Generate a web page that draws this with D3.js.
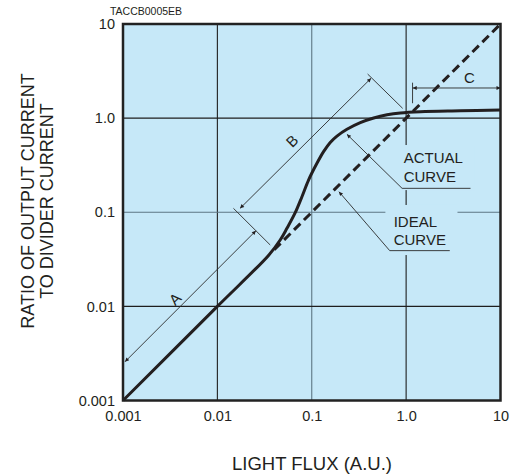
<!DOCTYPE html>
<html><head><meta charset="utf-8">
<script src="https://cdn.jsdelivr.net/npm/d3@7"></script>
<style>
body{margin:0;background:#fff}
svg{display:block}
text{font-family:"Liberation Sans",Arial,Helvetica,sans-serif;fill:#231f20}
</style>
</head><body>
<svg id="chart" width="514" height="475"></svg>
<script>
// ---------- data ----------
const tickValues   = [0.001, 0.01, 0.1, 1, 10];
const xTickLabels  = ["0.001", "0.01", "0.1", "1.0", "10"];
const yTickLabels  = ["0.001", "0.01", "0.1", "1.0", "10"];
const gridValues   = [0.01, 0.1, 1];
const actualX = [0.001, 0.01, 0.035, 0.0463, 0.0546, 0.0668, 0.0787, 0.0925, 0.1135, 0.1334, 0.157, 0.185, 0.236, 0.327, 0.453, 0.628, 0.869, 1.42, 3.76, 10];
const actualY = [0.001, 0.01, 0.035, 0.0507, 0.0675, 0.0989, 0.1463, 0.220, 0.331, 0.44, 0.551, 0.644, 0.761, 0.896, 1.003, 1.085, 1.136, 1.17, 1.196, 1.22];
const idealX  = [0.04, 10];
const idealY  = [0.04, 10];
const xTitle  = "LIGHT FLUX (A.U.)";
const yTitle  = ["RATIO OF OUTPUT CURRENT", "TO DIVIDER CURRENT"];
const figCode = "TACCB0005EB";
const labelA = "A", labelB = "B", labelC = "C";
const actualLabel = ["ACTUAL", "CURVE"];
const idealLabel  = ["IDEAL", "CURVE"];

// ---------- layout ----------
const svg = d3.select("#chart");
const L = 123, R = 500.5, T = 24, B = 400.5;
const x = d3.scaleLog().domain([0.001, 10]).range([L, R]);
const y = d3.scaleLog().domain([0.001, 10]).range([B, T]);
const bg = "#c6e8f8", ink = "#231f20";
const P = (a, b) => [x(a), y(b)];

// markers
const defs = svg.append("defs");
defs.append("marker").attr("id", "arr").attr("viewBox", "0 0 10 10")
  .attr("refX", 10).attr("refY", 5).attr("markerWidth", 7).attr("markerHeight", 4)
  .attr("markerUnits", "userSpaceOnUse").attr("orient", "auto-start-reverse")
  .append("path").attr("d", "M0,0 L10,5 L0,10 Z").attr("fill", ink);

// background
svg.append("rect").attr("x", L).attr("y", T).attr("width", R - L).attr("height", B - T).attr("fill", bg);

// grid
const grid = svg.append("g");
grid.selectAll(".gv").data(gridValues).join("line")
  .attr("x1", d => x(d)).attr("x2", d => x(d)).attr("y1", T).attr("y2", B)
  .attr("stroke", d => d === 0.1 ? "#5d7684" : "#1e1e1e").attr("stroke-width", 1.1);
grid.selectAll(".gh").data(gridValues).join("line")
  .attr("y1", d => y(d)).attr("y2", d => y(d)).attr("x1", L).attr("x2", R)
  .attr("stroke", d => d === 0.1 ? "#5d7684" : "#1e1e1e").attr("stroke-width", 1.1);

// label boxes (hide grid behind texts)
function box(x0, y0, x1, y1) {
  svg.append("rect").attr("x", x(x0)).attr("y", y(y0))
    .attr("width", x(x1) - x(x0)).attr("height", y(y1) - y(y0)).attr("fill", bg);
}
box(0.848, 0.518, 5.30, 0.172);
box(0.603, 0.1195, 3.50, 0.0351);

// curves
const straight = d3.line().x(d => x(d[0])).y(d => y(d[1]));
const smooth = d3.line().x(d => x(d[0])).y(d => y(d[1])).curve(d3.curveCatmullRom.alpha(0.5));
svg.append("path").datum(idealX.map((v, i) => [v, idealY[i]])).attr("d", straight)
  .attr("fill", "none").attr("stroke", ink).attr("stroke-width", 3).attr("stroke-dasharray", "9,5");
svg.append("path").datum(actualX.map((v, i) => [v, actualY[i]])).attr("d", smooth)
  .attr("fill", "none").attr("stroke", ink).attr("stroke-width", 3);

// annotations
const ann = svg.append("g").attr("stroke", "#2a2a2a").attr("stroke-width", 0.9).attr("fill", "none");
function seg(a, b, s, e) {
  const l = ann.append("line").attr("x1", P(...a)[0]).attr("y1", P(...a)[1])
    .attr("x2", P(...b)[0]).attr("y2", P(...b)[1]);
  if (s) l.attr("marker-start", "url(#arr)");
  if (e) l.attr("marker-end", "url(#arr)");
}
seg([0.00105, 0.00258], [0.0256, 0.0636], true, true);   // A
seg([0.0148, 0.110], [0.0363, 0.0449]);                  // ext 1
seg([0.0174, 0.110], [0.425, 2.65], true, true);         // B
seg([0.391, 2.94], [0.919, 1.27]);                       // ext 2
seg([1.175, 2.09], [10, 2.09], true, true);              // C
seg([1.17, 2.38], [1.17, 1.44]);                         // C ext
seg([0.906, 0.1795], [0.236, 0.673], false, true);       // actual leader
seg([0.906, 0.1795], [4.81, 0.1795]);                    // actual underline
seg([0.67, 0.0391], [0.194, 0.1653], false, true);       // ideal leader
seg([0.67, 0.0391], [2.90, 0.0391]);                     // ideal underline

function rotLabel(t, a, b) {
  const [px, py] = P(a, b);
  svg.append("text").attr("transform", `translate(${px},${py}) rotate(-45)`)
    .attr("text-anchor", "middle").attr("dy", "0.35em").attr("font-size", 15).text(t);
}
rotLabel(labelA, 0.00357, 0.012);
rotLabel(labelB, 0.062, 0.571);
svg.append("text").attr("x", x(4.69)).attr("y", y(2.39)).attr("text-anchor", "middle")
  .attr("font-size", 15).text(labelC);

function multi(lines, a, b) {
  const [px, py] = P(a, b);
  svg.append("text").attr("font-size", 15).selectAll("tspan").data(lines).join("tspan")
    .attr("x", px).attr("y", (d, i) => py + i * 18.4).text(d => d);
}
multi(actualLabel, 0.942, 0.331);
multi(idealLabel, 0.738, 0.0702);

// border
svg.append("rect").attr("x", L).attr("y", T).attr("width", R - L).attr("height", B - T)
  .attr("fill", "none").attr("stroke", "#222").attr("stroke-width", 2.5);

// axes
const xAxis = d3.axisBottom(x).tickValues(tickValues).tickSize(0).tickPadding(10)
  .tickFormat((d, i) => xTickLabels[i]);
const yAxis = d3.axisLeft(y).tickValues(tickValues).tickSize(0).tickPadding(8)
  .tickFormat((d, i) => yTickLabels[i]);
const gx = svg.append("g").attr("transform", `translate(0,${B})`).call(xAxis);
const gy = svg.append("g").attr("transform", `translate(${L},0)`).call(yAxis);
[gx, gy].forEach(g => {
  g.select(".domain").remove();
  g.selectAll("text").attr("font-size", 14.5).attr("fill", ink)
    .style("font-family", '"Liberation Sans",Arial,sans-serif');
});

// titles
svg.append("text").attr("x", 312).attr("y", 470).attr("text-anchor", "middle")
  .attr("font-size", 18.5).text(xTitle);
svg.append("text").attr("transform", "translate(34,201) rotate(-90)").attr("text-anchor", "middle")
  .attr("font-size", 18).text(yTitle[0]);
svg.append("text").attr("transform", "translate(53,201) rotate(-90)").attr("text-anchor", "middle")
  .attr("font-size", 18).text(yTitle[1]);
svg.append("text").attr("x", 146).attr("y", 15).attr("text-anchor", "middle")
  .attr("font-size", 10.5).text(figCode);
</script>
</body></html>
